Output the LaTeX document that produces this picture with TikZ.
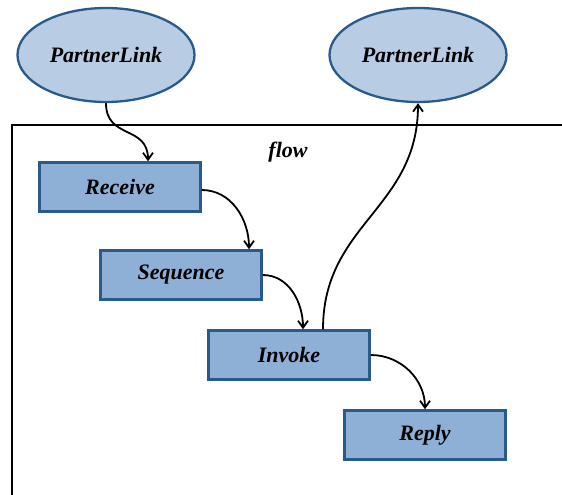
\documentclass[tikz,border=0pt]{standalone}
\usepackage{fontspec}
\setmainfont{Liberation Serif}
\usetikzlibrary{arrows.meta,calc,shapes.geometric}
\definecolor{ellfill}{HTML}{B8CCE4}
\definecolor{boxfill}{HTML}{8FB0D6}
\definecolor{edge}{HTML}{285A8C}
\tikzset{
  plink/.style={ellipse,draw=edge,fill=ellfill,line width=2.3pt,minimum width=177pt,minimum height=94pt,inner sep=0pt,font=\fontsize{22}{26}\selectfont\bfseries\itshape},
  act/.style={rectangle,draw=edge,fill=boxfill,line width=2.5pt,minimum width=161pt,minimum height=49pt,inner sep=0pt,font=\fontsize{22}{26}\selectfont\bfseries\itshape},
  conn/.style={line width=1.8pt,-{Straight Barb[length=7pt,width=10pt,line width=1.8pt]}}
}
\begin{document}
\begin{tikzpicture}[x=1pt,y=-1pt]
\useasboundingbox (0,0) rectangle (562,495);
% flow frame
\coordinate (fr1) at (564,125);
\coordinate (fr2) at (12,125);
\coordinate (fr3) at (12,497);
\draw[line width=1.8pt] (fr1) -- (fr2) -- (fr3);
\node[font=\fontsize{22}{26}\selectfont\bfseries\itshape] (flow) at (288,152) {flow};
% partner links
\node[plink] (pl1) at (106,55) {PartnerLink};
\node[plink] (pl2) at (418,55) {PartnerLink};
% activities
\node[act] (rec) at (120,187) {Receive};
\node[act] (seq) at (181,275) {Sequence};
\node[act] (inv) at (289,355) {Invoke};
\node[act] (rep) at (425,435) {Reply};
% connectors
\draw[conn] (pl1.south) to[out=-90,in=90,looseness=1.3] ($(rec.north)+(28,0)$);
\draw[conn] ($(rec.east)+(0,3)$) to[out=0,in=90] ($(seq.north)+(68,0)$);
\draw[conn] (seq.east) to[out=0,in=90] ($(inv.north)+(14,0)$);
\draw[conn] ($(inv.north)+(34,0)$) to[out=90,in=-90,looseness=1.1] (pl2.south);
\draw[conn] (inv.east) to[out=0,in=90] (rep.north);
\end{tikzpicture}
\end{document}
